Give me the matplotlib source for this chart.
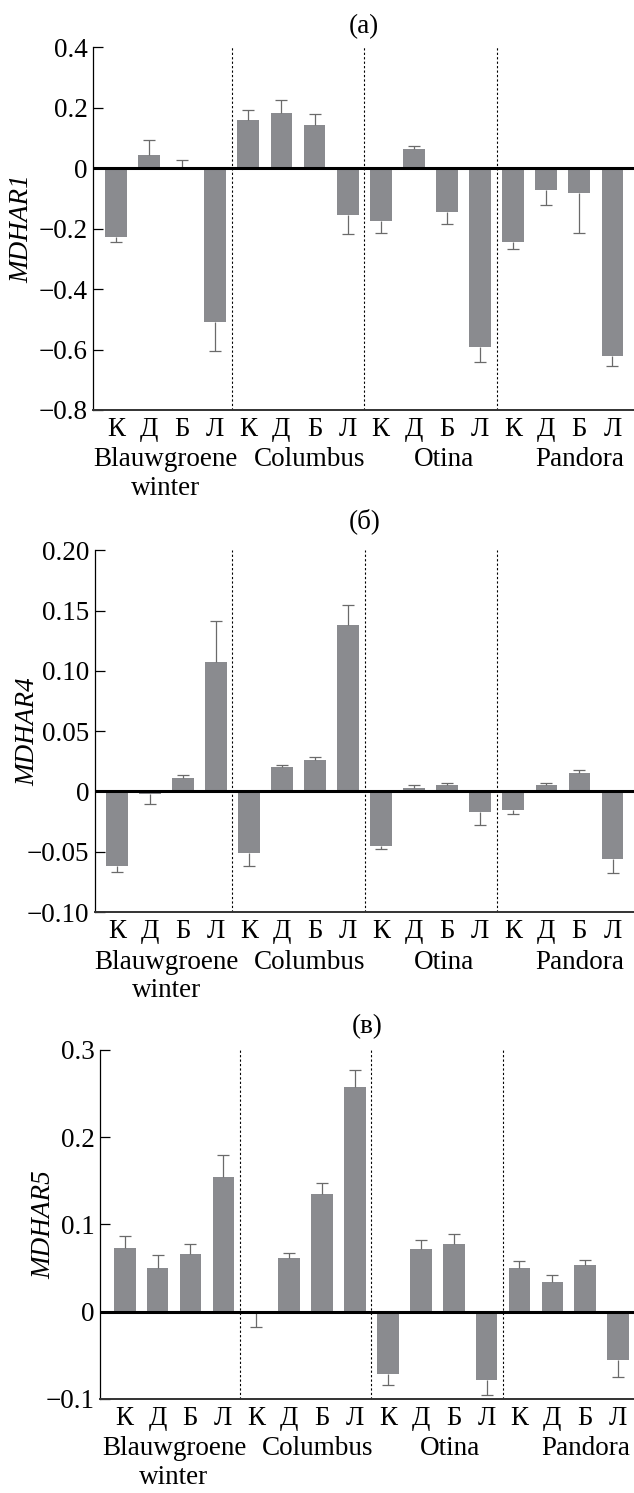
import matplotlib.pyplot as plt
import numpy as np

plt.rcParams['font.family'] = ['Liberation Serif', 'DejaVu Serif']

cultivars = ["Blauwgroene\nwinter", "Columbus", "Otina", "Pandora"]
treatments = ["К", "Д", "Б", "Л"]

# (a) MDHAR1
mdhar1 = [-0.228, 0.043, 0.002, -0.51,
          0.159, 0.182, 0.144, -0.154,
          -0.176, 0.065, -0.144, -0.59,
          -0.245, -0.073, -0.083, -0.621]
mdhar1_err = [0.015, 0.051, 0.026, 0.095,
              0.032, 0.044, 0.035, 0.063,
              0.040, 0.008, 0.040, 0.051,
              0.022, 0.048, 0.132, 0.033]

# (б) MDHAR4
mdhar4 = [-0.062, -0.002, 0.0113, 0.107,
          -0.051, 0.020, 0.026, 0.138,
          -0.0456, 0.003, 0.005, -0.0166,
          -0.0155, 0.0055, 0.0155, -0.0556]
mdhar4_err = [0.005, 0.008, 0.002, 0.034,
              0.011, 0.0017, 0.003, 0.017,
              0.0025, 0.002, 0.002, 0.011,
              0.003, 0.0017, 0.0025, 0.012]

# (в) MDHAR5
mdhar5 = [0.0733, 0.0504, 0.0664, 0.154,
          -0.001, 0.0615, 0.135, 0.258,
          -0.0718, 0.0721, 0.078, -0.078,
          0.0496, 0.0336, 0.0534, -0.0553]
mdhar5_err = [0.013, 0.014, 0.011, 0.026,
              0.016, 0.006, 0.013, 0.019,
              0.0126, 0.0095, 0.011, 0.0176,
              0.009, 0.0084, 0.0057, 0.020]

panels = [
    ("(a)", "MDHAR1", mdhar1, mdhar1_err, (-0.8, 0.4), [0.4, 0.2, 0, -0.2, -0.4, -0.6, -0.8],
     ["0.4", "0.2", "0", "\u22120.2", "\u22120.4", "\u22120.6", "\u22120.8"],
     [0.1473, 0.7254, 0.8527, 0.2429], (-0.68, 15.65), -0.132, 10),
    ("(б)", "MDHAR4", mdhar4, mdhar4_err, (-0.10, 0.20), [0.20, 0.15, 0.10, 0.05, 0, -0.05, -0.10],
     ["0.20", "0.15", "0.10", "0.05", "0", "\u22120.05", "\u22120.10"],
     [0.1498, 0.3891, 0.8502, 0.2423], (-0.66, 15.65), -0.124, 16),
    ("(в)", "MDHAR5", mdhar5, mdhar5_err, (-0.1, 0.3), [0.3, 0.2, 0.1, 0, -0.1],
     ["0.3", "0.2", "0.1", "0", "\u22120.1"],
     [0.1582, 0.0630, 0.8418, 0.2338], (-0.74, 15.48), -0.105, 12),
]

group_x = [1.5, 5.85, 9.9, 14.0]

fig = plt.figure(figsize=(6.34, 14.93), dpi=100)

for title, ylab, vals, errs, ylim, yt, ytl, rect, xlim, labx, tpad in panels:
    ax = fig.add_axes(rect)
    vals = np.array(vals)
    errs = np.array(errs)
    x = np.arange(len(vals))
    ax.bar(x, vals, width=0.66, color="#8a8b8f", zorder=2)
    # one-sided error bars, pointing away from zero
    tips = vals + np.sign(vals) * errs
    ax.vlines(x, vals, tips, color="#6a6a6a", lw=0.9, zorder=3)
    ax.plot(x, tips, ls="none", marker="_", ms=8, mew=0.9, color="#6a6a6a", zorder=3)
    ax.axhline(0, color="black", lw=2.2, zorder=4)
    for d in [3.5, 7.5, 11.5]:
        ax.axvline(d, color="black", lw=0.8, ls=(0, (2, 2)), zorder=1)
    ax.set_xlim(*xlim)
    ax.set_ylim(*ylim)
    ax.set_yticks(yt)
    ax.set_yticklabels(ytl)
    ax.set_xticks(x)
    ax.set_xticklabels(treatments * 4)
    ax.tick_params(axis="y", direction="in", length=7, width=0.9, labelsize=19.5, pad=4)
    ax.tick_params(axis="x", length=0, labelsize=19.5, pad=5)
    for s in ["top", "right"]:
        ax.spines[s].set_visible(False)
    ax.spines["left"].set_linewidth(0.9)
    ax.spines["bottom"].set_linewidth(1.4)
    ax.spines["bottom"].set_color("#333333")
    ax.set_ylabel(ylab, fontsize=19.5, style="italic")
    ax.yaxis.label.set_va("center")
    ax.yaxis.set_label_coords(labx, 0.5)
    ax.set_title(title, fontsize=19.5, pad=tpad)
    for gx, name in zip(group_x, cultivars):
        ax.annotate(name, xy=(gx, 0), xycoords=("data", "axes fraction"),
                    xytext=(0, -27), textcoords="offset points",
                    ha="center", va="top", fontsize=19.5, linespacing=1.2)

fig.savefig("out.png", dpi=100)
